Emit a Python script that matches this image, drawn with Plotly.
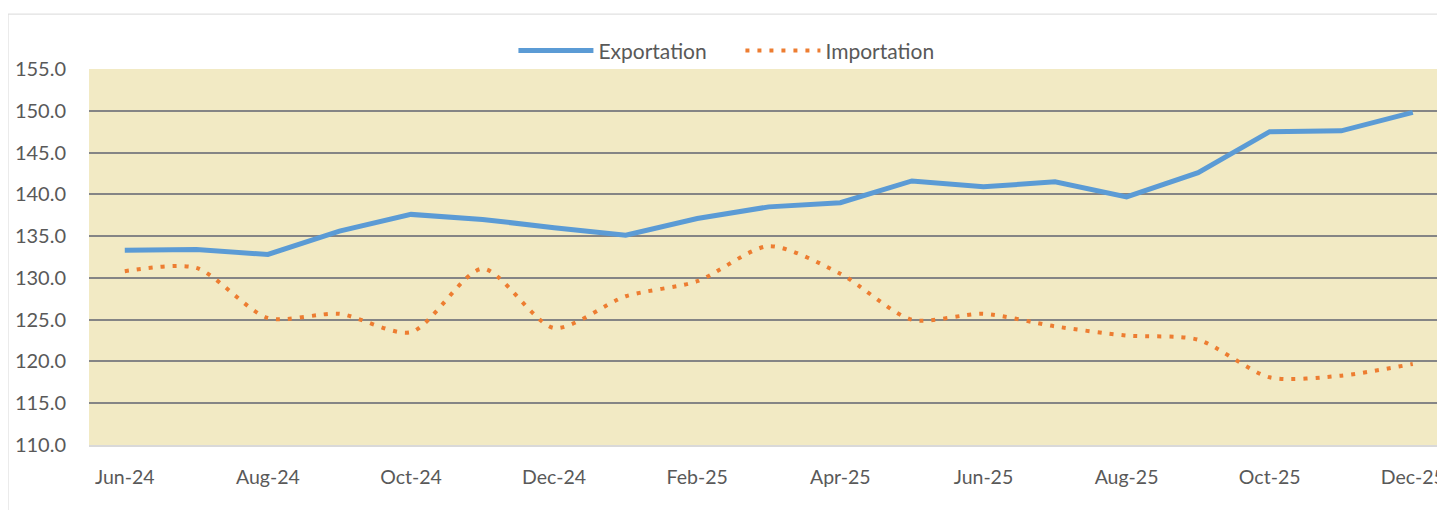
import plotly.graph_objects as go

months = ["Jun-24", "Jul-24", "Aug-24", "Sep-24", "Oct-24", "Nov-24", "Dec-24",
          "Jan-25", "Feb-25", "Mar-25", "Apr-25", "May-25", "Jun-25", "Jul-25",
          "Aug-25", "Sep-25", "Oct-25", "Nov-25", "Dec-25"]
exportation = [133.3, 133.4, 132.8, 135.6, 137.6, 137.0, 136.0, 135.1, 137.1, 138.5,
               139.0, 141.6, 140.9, 141.5, 139.7, 142.6, 147.5, 147.6, 149.8]
importation = [130.8, 131.2, 125.2, 125.7, 123.5, 131.1, 124.0, 127.8, 129.6, 133.8,
               130.5, 125.0, 125.7, 124.2, 123.1, 122.6, 118.1, 118.3, 119.7]
tick_labels = ["Jun-24", "Aug-24", "Oct-24", "Dec-24", "Feb-25", "Apr-25",
               "Jun-25", "Aug-25", "Oct-25", "Dec-25"]
y_ticks = [110, 115, 120, 125, 130, 135, 140, 145, 150, 155]

FONT = "Lato"
TXT = "#595959"

fig = go.Figure()
fig.add_trace(go.Scatter(x=months, y=exportation, name="Exportation", mode="lines",
                         line=dict(color="#5B9BD5", width=5)))
fig.add_trace(go.Scatter(x=months, y=importation, name="Importation", mode="lines",
                         line=dict(color="#ED7D31", width=4, dash="4px,8px",
                                   shape="spline", smoothing=0.75)))

fig.update_layout(
    width=1437, height=502,
    margin=dict(l=81, r=0, t=61, b=65),
    paper_bgcolor="white",
    plot_bgcolor="#F2EAC4",
    font=dict(family=FONT, size=20, color=TXT),
    showlegend=True,
    legend=dict(orientation="h", x=0.313, xanchor="left", y=1.048, yanchor="middle",
                font=dict(family=FONT, size=21, color=TXT), itemwidth=75,
                entrywidth=137, entrywidthmode="pixels",
                bgcolor="rgba(0,0,0,0)", traceorder="normal"),
    xaxis=dict(type="category", categoryorder="array", categoryarray=months,
               range=[-0.5, 18.45], tickmode="array", tickvals=tick_labels,
               ticktext=tick_labels, showgrid=False, zeroline=False,
               showline=True, linecolor="#D9D9D9", linewidth=2,
               ticks="", ticklabelstandoff=14,
               tickfont=dict(family=FONT, size=19.5, color=TXT)),
    yaxis=dict(range=[110, 155], tickmode="array", tickvals=y_ticks,
               ticktext=[f"{v:.1f}" for v in y_ticks],
               showgrid=True, gridcolor="#858585", gridwidth=1.5,
               zeroline=False, showline=False, ticks="", ticklabelstandoff=22,
               tickfont=dict(family=FONT, size=20, color=TXT)),
    shapes=[dict(type="rect", xref="paper", yref="paper",
                 x0=-0.0597, x1=1.05, y0=-0.3, y1=1.146,
                 line=dict(color="#D9D9D9", width=1), fillcolor="rgba(0,0,0,0)",
                 layer="below")],
)

fig.write_html("out.html")
